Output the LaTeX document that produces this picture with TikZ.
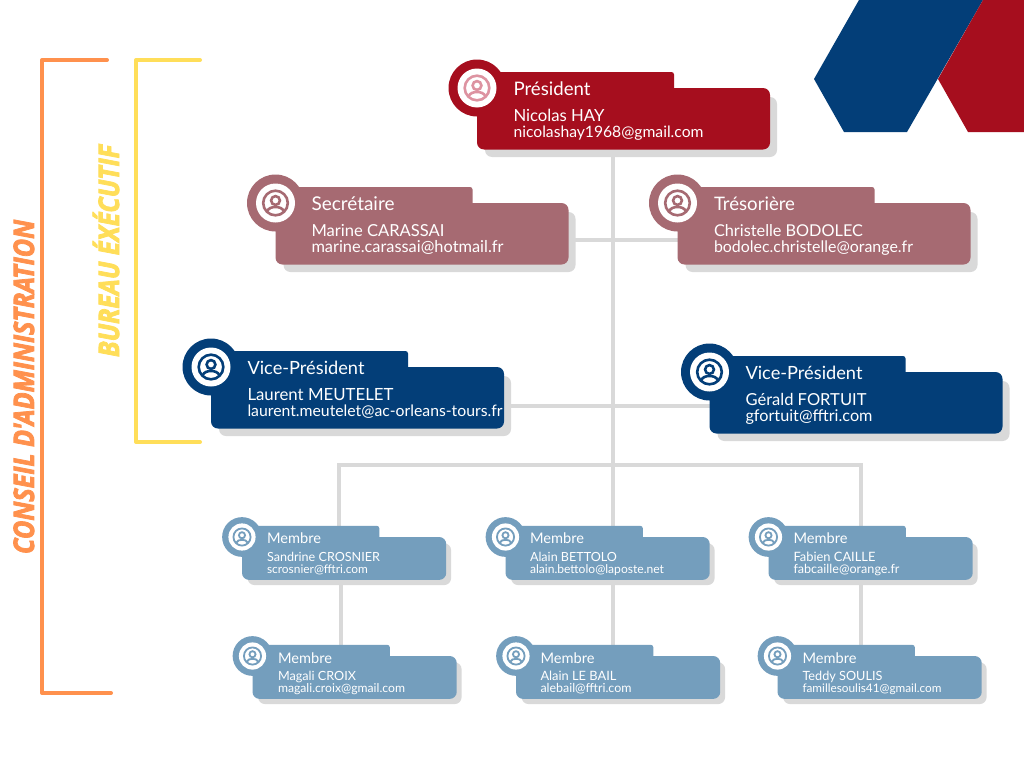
\documentclass[tikz,border=0pt]{standalone}
\usepackage{fontspec}
\usepackage{graphicx}
\setmainfont{Lato}
\newfontfamily\sidefont[BoldItalicFeatures={FakeBold=3}]{Open Sans}
\usetikzlibrary{backgrounds}
\definecolor{cred}{HTML}{A60E1E}
\definecolor{cblue}{HTML}{033E78}
\definecolor{crose}{HTML}{A66A72}
\definecolor{cpink}{HTML}{DD93A1}
\definecolor{csteel}{HTML}{749EBD}
\definecolor{cgrey}{HTML}{D9D9D9}
\definecolor{corange}{HTML}{FF914D}
\definecolor{cyellow}{HTML}{FFDE59}
\tikzset{
  link/.style={draw=cgrey,line width=3.6pt},
  bracketline/.style={line width=4pt,line cap=round,line join=round},
  lbl/.style={anchor=base west,inner sep=0pt,outer sep=0pt,text=white,font=\fontsize{14}{16}\selectfont},
  sidelabel/.style={anchor=base west,inner sep=0pt,outer sep=0pt,rotate=90,font=\sidefont\bfseries\itshape\fontsize{20}{24}\selectfont},
  cardbody/.style={transform shape,anchor=north west,inner sep=0pt,outer sep=0pt,minimum width=293pt,minimum height=61.5pt,rounded corners=7pt}
}
% name, cx, cy, scale, fill, icon colour, tab width (unscaled)
\newcommand\orgcard[7]{%
  \begin{scope}[shift={(#2,#3)},scale=#4]
    \pgfmathsetmacro\cardlw{2.6*#4}
    \fill[cgrey,rounded corners=7pt] (8,9) rectangle (300,69);
    \node[cardbody,fill=#5] (#1) at (0,0) {};
    \fill[#5,rounded corners=2.5pt] (0,4) -- (0,-16) -- (#7,-16) -- (#7,4) -- cycle;
    \fill[#5] (0,0) circle (28.5);
    \fill[white] (0,0) circle (19.5);
    \draw[#6,line width=\cardlw pt] (0,0) circle (12.3);
    \draw[#6,line width=\cardlw pt] (0,-2.5) circle (4.4);
    \draw[#6,line width=\cardlw pt] (-8.5,8.5) .. controls (-7,5) and (-3.5,4) .. (0,4) .. controls (3.5,4) and (7,5) .. (8.5,8.5);
  \end{scope}%
}
\newcommand\cardtext[5]{\node[lbl] (#1) at (#2,#3) {\resizebox{#4pt}{!}{#5}};}
\begin{document}
\begin{tikzpicture}[x=1pt,y=-1pt]
\useasboundingbox (0,0) rectangle (1024,768);
\begin{pgfonlayer}{background}
  \fill[white] (0,0) rectangle (1024,768);
\end{pgfonlayer}

% logo
\fill[cblue] (859,0) -- (983,0) -- (907,132) -- (844,132) -- (814,79) -- cycle;
\fill[cred] (983,0) -- (1024,0) -- (1024,132) -- (968,132) -- (938,79) -- cycle;

% brackets
\draw[bracketline,corange] (107,60) -- (42,60) -- (42,693) -- (111,693);
\draw[bracketline,cyellow] (200,60) -- (136,60) -- (136,442) -- (200,442);
\node[sidelabel,text=corange] (ca) at (34,554) {\resizebox{334pt}{!}{\scalebox{1}[1.12]{CONSEIL D'ADMINISTRATION}}};
\node[sidelabel,text=cyellow] (be) at (119,357) {\resizebox{212pt}{!}{\scalebox{1}[1.12]{BUREAU ÉXÉCUTIF}}};

% cards
\orgcard{pres}{477}{88}{1}{cred}{cpink}{197}
\orgcard{sec}{275.5}{203}{1}{crose}{crose}{197}
\orgcard{tres}{677.5}{203}{1}{crose}{crose}{197}
\orgcard{vpa}{211}{367}{1}{cblue}{cblue}{197}
\orgcard{vpb}{709.5}{372}{1}{cblue}{cblue}{196}
\orgcard{ma}{242}{537}{0.697}{csteel}{csteel}{197}
\orgcard{mb}{505.5}{537}{0.697}{csteel}{csteel}{197}
\orgcard{mc}{768.5}{537}{0.697}{csteel}{csteel}{197}
\orgcard{md}{252.5}{656}{0.697}{csteel}{csteel}{197}
\orgcard{me}{516}{656}{0.697}{csteel}{csteel}{197}
\orgcard{mf}{777.5}{656}{0.697}{csteel}{csteel}{197}

% connectors
\coordinate (trunk) at (613,465);
\coordinate (barl) at (339,465);
\coordinate (barr) at (861,465);
\coordinate (jsec) at (613,240);
\coordinate (jvp) at (613,406);
\coordinate (lowl) at (341,600);
\coordinate (lowm) at (613,600);
\coordinate (lowr) at (861,600);
\begin{pgfonlayer}{background}
  \draw[link] (pres.south -| trunk) -- (mb.north -| trunk);
  \draw[link] (sec.east |- jsec) -- (tres.west |- jsec);
  \draw[link] (vpa.east |- jvp) -- (vpb.west |- jvp);
  \draw[link] (ma.north -| barl) -- (barl) -- (barr) -- (mc.north -| barr);
  \draw[link] (ma.south -| lowl) -- (md.north -| lowl);
  \draw[link] (mb.south -| lowm) -- (me.north -| lowm);
  \draw[link] (mc.south -| lowr) -- (mf.north -| lowr);
\end{pgfonlayer}

% texts
\cardtext{t1}{513.5}{95}{77}{Président}
\cardtext{n1}{513.5}{121}{91}{Nicolas HAY}
\cardtext{e1}{513.5}{137}{190}{nicolashay1968@gmail.com}
\cardtext{t2}{311.5}{210}{83}{Secrétaire}
\cardtext{n2}{311.5}{236}{133}{Marine CARASSAI}
\cardtext{e2}{311.5}{252}{192}{marine.carassai@hotmail.fr}
\cardtext{t3}{714}{210}{81}{Trésorière}
\cardtext{n3}{714}{236}{149}{Christelle BODOLEC}
\cardtext{e3}{714}{252}{199}{bodolec.christelle@orange.fr}
\cardtext{t4}{247.5}{374}{117}{Vice-Président}
\cardtext{n4}{247.5}{400}{146}{Laurent MEUTELET}
\cardtext{e4}{247.5}{416}{255}{laurent.meutelet@ac-orleans-tours.fr}
\cardtext{t5}{745.5}{379}{117}{Vice-Président}
\cardtext{n5}{745.5}{405}{121}{Gérald FORTUIT}
\cardtext{e5}{745.5}{421}{127}{gfortuit@fftri.com}
\cardtext{t6}{267}{543}{54}{Membre}
\cardtext{n6}{267}{561}{113}{Sandrine CROSNIER}
\cardtext{e6}{267}{573}{101}{scrosnier@fftri.com}
\cardtext{t7}{530}{543}{54}{Membre}
\cardtext{n7}{530}{561}{87}{Alain BETTOLO}
\cardtext{e7}{530}{573}{134}{alain.bettolo@laposte.net}
\cardtext{t8}{793.5}{543}{54}{Membre}
\cardtext{n8}{793.5}{561}{82}{Fabien CAILLE}
\cardtext{e8}{793.5}{573}{106}{fabcaille@orange.fr}
\cardtext{t9}{278}{663}{54}{Membre}
\cardtext{n9}{278}{680}{78}{Magali CROIX}
\cardtext{e9}{278}{692}{127}{magali.croix@gmail.com}
\cardtext{t10}{540.5}{663}{54}{Membre}
\cardtext{n10}{540.5}{680}{76}{Alain LE BAIL}
\cardtext{e10}{540.5}{692}{91}{alebail@fftri.com}
\cardtext{t11}{802.5}{663}{54}{Membre}
\cardtext{n11}{802.5}{680}{80}{Teddy SOULIS}
\cardtext{e11}{802.5}{692}{139}{famillesoulis41@gmail.com}
\end{tikzpicture}
\end{document}
